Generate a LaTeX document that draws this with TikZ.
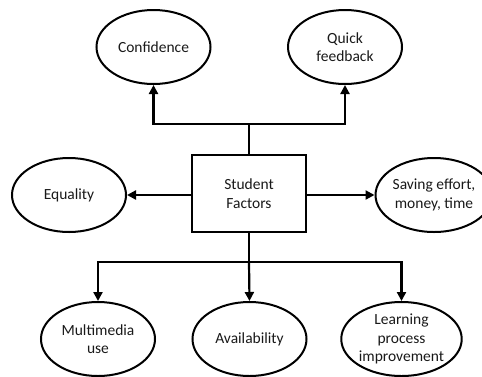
\documentclass[tikz,border=0pt]{standalone}
\usepackage{fontspec}
\setmainfont{Carlito}
\usetikzlibrary{shapes.geometric,arrows.meta}
\begin{document}
\begin{tikzpicture}[x=1pt,y=-1pt,
  every node/.style={font=\fontsize{15.5}{18.5}\selectfont, text=black!90, align=center},
  factor/.style={ellipse, draw, line width=2pt, minimum width=114pt, minimum height=74pt, inner sep=0pt},
  hub/.style={rectangle, draw, line width=2.2pt, minimum width=114pt, minimum height=77pt},
  link/.style={line width=2.2pt},
  arrow/.style={link, -{Triangle[length=9pt,width=9pt]}}]
  \useasboundingbox (0,0) rectangle (482,376);
  \clip (0,0) rectangle (482,376);
  % central box
  \node[hub] (sf) at (249,193.5) {Student\\Factors};
  % surrounding factors
  \node[factor] (conf) at (153.5,47) {Confidence};
  \node[factor] (quick) at (345,47) {Quick\\feedback};
  \node[factor] (equal) at (69,195) {Equality};
  \node[factor] (save) at (434,195) {Saving effort,\\money, time};
  \node[factor] (multi) at (98,339) {Multimedia\\use};
  \node[factor] (avail) at (249.5,339) {Availability};
  \node[factor] (learn) at (401.5,339) {Learning\\process\\improvement};
  % upper branch
  \coordinate (up) at (249,124);
  \draw[link] (sf.north) -- (up);
  \draw[arrow] (up) -| (conf.south);
  \draw[arrow] (up) -| (quick.south);
  % side arrows
  \draw[arrow] (sf.west |- equal.east) -- (equal.east);
  \draw[arrow] (sf.east |- save.west) -- (save.west);
  % lower branch
  \coordinate (down) at (249,262);
  \draw[link] (sf.south) -- (down);
  \draw[arrow] (down) -| (multi.north);
  \draw[arrow] (down) -- (avail.north);
  \draw[arrow] (down) -| (learn.north);
\end{tikzpicture}
\end{document}
